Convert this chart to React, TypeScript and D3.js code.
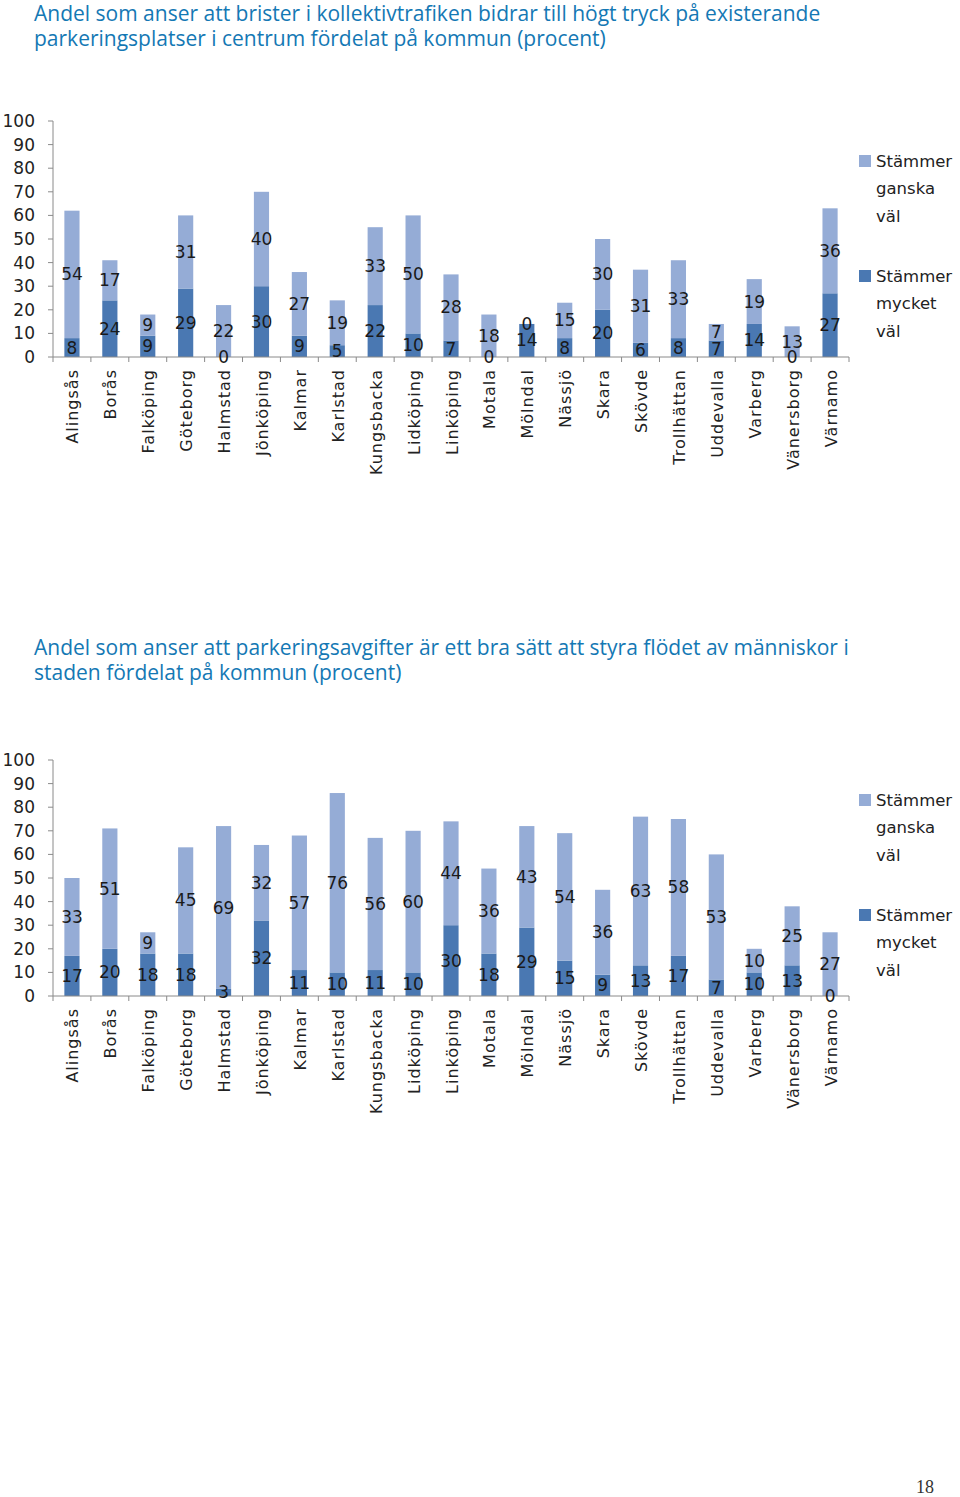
import React from 'react';
import * as d3 from 'd3';

const kommuner = [
  'Alingsås', 'Borås', 'Falköping', 'Göteborg', 'Halmstad', 'Jönköping', 'Kalmar',
  'Karlstad', 'Kungsbacka', 'Lidköping', 'Linköping', 'Motala', 'Mölndal', 'Nässjö',
  'Skara', 'Skövde', 'Trollhättan', 'Uddevalla', 'Varberg', 'Vänersborg', 'Värnamo',
];

// diagram 1: brister i kollektivtrafiken
const mycket1 = [8, 24, 9, 29, 0, 30, 9, 5, 22, 10, 7, 0, 14, 8, 20, 6, 8, 7, 14, 0, 27];
const ganska1 = [54, 17, 9, 31, 22, 40, 27, 19, 33, 50, 28, 18, 0, 15, 30, 31, 33, 7, 19, 13, 36];

// diagram 2: parkeringsavgifter
const mycket2 = [17, 20, 18, 18, 3, 32, 11, 10, 11, 10, 30, 18, 29, 15, 9, 13, 17, 7, 10, 13, 0];
const ganska2 = [33, 51, 9, 45, 69, 32, 57, 76, 56, 60, 44, 36, 43, 54, 36, 63, 58, 53, 10, 25, 27];

const yTicks = [0, 10, 20, 30, 40, 50, 60, 70, 80, 90, 100];
const seriesNames = ['Stämmer ganska väl', 'Stämmer mycket väl'];

const title1 = [
  'Andel som anser att brister i kollektivtrafiken bidrar till högt tryck på existerande',
  'parkeringsplatser i centrum fördelat på kommun (procent)',
];
const title2 = [
  'Andel som anser att parkeringsavgifter är ett bra sätt att styra flödet av människor i',
  'staden fördelat på kommun (procent)',
];

const LIGHT = '#95acd6';
const DARK = '#4a78b2';
const AXIS = '#8a8a8a';
const FONT = '"DejaVu Sans", sans-serif';

interface ChartProps {
  top: number; // y pixel of value 100
  bottom: number; // y pixel of value 0
  mycket: number[];
  ganska: number[];
}

const Chart: React.FC<ChartProps> = ({ top, bottom, mycket, ganska }) => {
  const x = d3.scaleBand<string>().domain(kommuner).range([53, 849]).paddingInner(0.6).paddingOuter(0.3);
  const y = d3.scaleLinear().domain([0, 100]).range([bottom, top]);
  const step = x.step();
  const x0 = 53;

  const rows = kommuner.map((k, i) => ({ k, m: mycket[i], g: ganska[i] }));
  const stack = d3.stack<any>().keys(['m', 'g'])(rows);

  return (
    <g>
      {/* staplar */}
      {stack.map((layer) => (
        <g key={layer.key} fill={layer.key === 'm' ? DARK : LIGHT}>
          {layer.map((d, i) => (
            <rect
              key={i}
              x={x(kommuner[i])!}
              width={x.bandwidth()}
              y={y(d[1])}
              height={y(d[0]) - y(d[1])}
            />
          ))}
        </g>
      ))}
      {/* axlar */}
      <line x1={x0} x2={x0} y1={top} y2={bottom} stroke={AXIS} />
      <line x1={x0} x2={849} y1={bottom} y2={bottom} stroke={AXIS} />
      {yTicks.map((t) => (
        <g key={t}>
          <line x1={x0 - 5} x2={x0} y1={y(t)} y2={y(t)} stroke={AXIS} />
          <text x={35} y={y(t)} textAnchor="end" dominantBaseline="central" fontSize={17} fontFamily={FONT} fill="#222">
            {t}
          </text>
        </g>
      ))}
      {d3.range(kommuner.length + 1).map((i) => (
        <line key={i} x1={x0 + i * step} x2={x0 + i * step} y1={bottom} y2={bottom + 5} stroke={AXIS} />
      ))}
      {kommuner.map((k) => (
        <text
          key={k}
          transform={`translate(${x(k)! + x.bandwidth() / 2 + 1},${bottom + 12}) rotate(-90)`}
          textAnchor="end"
          dominantBaseline="central"
          fontSize={16}
          letterSpacing={1}
          fontFamily={FONT}
          fill="#222"
        >
          {k}
        </text>
      ))}
      {/* värdeetiketter */}
      {stack.map((layer) =>
        layer.map((d, i) => (
          <text
            key={layer.key + i}
            x={x(kommuner[i])! + x.bandwidth() / 2}
            y={y((d[0] + d[1]) / 2)}
            textAnchor="middle"
            dominantBaseline="central"
            fontSize={17}
            fontFamily={FONT}
            fill="#1a1a1a"
          >
            {d[1] - d[0]}
          </text>
        ))
      )}
      {/* förklaring */}
      {[LIGHT, DARK].map((c, li) => {
        const ly = top + 40 + li * 115;
        const words = seriesNames[li].split(' ');
        return (
          <g key={c}>
            <rect x={859} y={ly - 6} width={12} height={12} fill={c} />
            {words.map((w, wi) => (
              <text key={w} x={876} y={ly + wi * 27.5} dominantBaseline="central" fontSize={16.5} fontFamily={FONT} fill="#222">
                {w}
              </text>
            ))}
          </g>
        );
      })}
    </g>
  );
};

const Title: React.FC<{ lines: string[]; y: number }> = ({ lines, y }) => (
  <g>
    {lines.map((l, i) => (
      <text key={i} x={34} y={y + i * 25} dominantBaseline="central" fontSize={21} fontFamily='"Open Sans", sans-serif' fill="#1478b4">
        {l}
      </text>
    ))}
  </g>
);

export default function App() {
  return (
    <svg width={960} height={1497} style={{ position: 'absolute', left: 0, top: 0, background: '#fff' }}>
      <Title lines={title1} y={13} />
      <Chart top={121} bottom={357} mycket={mycket1} ganska={ganska1} />
      <Title lines={title2} y={647} />
      <Chart top={760} bottom={996} mycket={mycket2} ganska={ganska2} />
      <text x={916} y={1487} dominantBaseline="central" fontSize={18} fontFamily='"Liberation Serif", serif' fill="#333">
        18
      </text>
    </svg>
  );
}
